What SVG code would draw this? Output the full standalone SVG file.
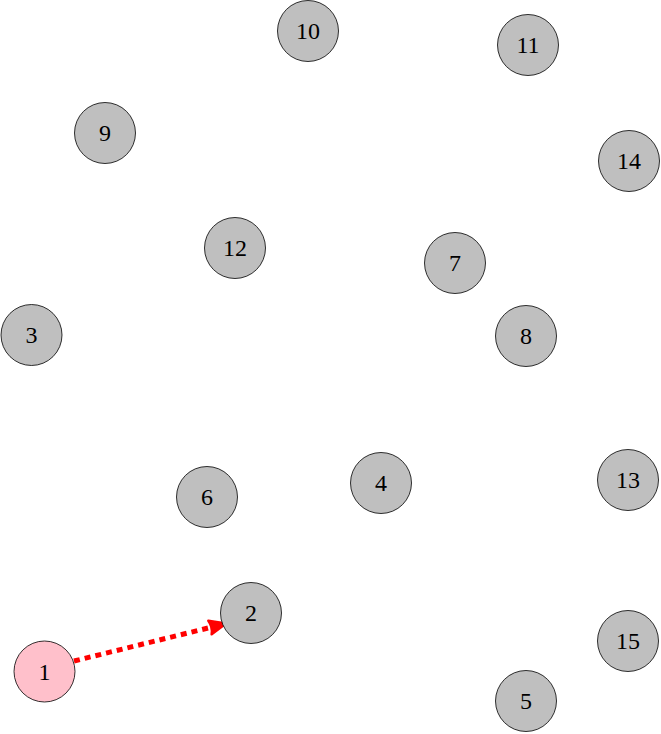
<svg xmlns="http://www.w3.org/2000/svg" width="661" height="734" viewBox="0 0 661 734">
<style>
.n circle{fill:#bfbfbf;stroke:#000;stroke-width:0.8}
.n text{font-family:"Liberation Serif","DejaVu Serif",serif;font-size:24px;text-anchor:middle;dominant-baseline:central;fill:#000}
.e{stroke:#ff0000;stroke-width:5;stroke-dasharray:6,5;fill:none}
</style>
<defs>
<marker id="ah" markerWidth="6" markerHeight="6" refX="3.6" refY="2" orient="auto" markerUnits="strokeWidth" overflow="visible">
<path d="M0.3,0.6 Q0.9,2 0.3,3.4 L3.6,2 Z" fill="#ff0000" stroke="#ff0000" stroke-width="0.5" stroke-linejoin="round"/>
</marker>
</defs>
<g id="connectors">
<line class="e" x1="74" y1="661" x2="226" y2="623.6" marker-end="url(#ah)"/>
</g>
<g id="node10" class="n"><circle cx="308" cy="31" r="30.5"/><text x="308" y="31">10</text></g>
<g id="node11" class="n"><circle cx="528" cy="45" r="30.5"/><text x="528" y="45">11</text></g>
<g id="node9" class="n"><circle cx="105" cy="133" r="30.5"/><text x="105" y="133">9</text></g>
<g id="node14" class="n"><circle cx="629" cy="161" r="30.5"/><text x="629" y="161">14</text></g>
<g id="node12" class="n"><circle cx="235" cy="248" r="30.5"/><text x="235" y="248">12</text></g>
<g id="node7" class="n"><circle cx="455" cy="263" r="30.5"/><text x="455" y="263">7</text></g>
<g id="node3" class="n"><circle cx="31.5" cy="335" r="30.5"/><text x="31.5" y="335">3</text></g>
<g id="node8" class="n"><circle cx="526" cy="336" r="30.5"/><text x="526" y="336">8</text></g>
<g id="node4" class="n"><circle cx="381" cy="483" r="30.5"/><text x="381" y="483">4</text></g>
<g id="node13" class="n"><circle cx="628" cy="480" r="30.5"/><text x="628" y="480">13</text></g>
<g id="node6" class="n"><circle cx="207" cy="497" r="30.5"/><text x="207" y="497">6</text></g>
<g id="node2" class="n"><circle cx="251" cy="613" r="30.5"/><text x="251" y="613">2</text></g>
<g id="node15" class="n"><circle cx="628" cy="641" r="30.5"/><text x="628" y="641">15</text></g>
<g id="node1" class="n"><circle cx="44.5" cy="671.5" r="30.5" style="fill:#ffc0cb"/><text x="44.5" y="671.5">1</text></g>
<g id="node5" class="n"><circle cx="526" cy="701" r="30.5"/><text x="526" y="701">5</text></g>
</svg>
